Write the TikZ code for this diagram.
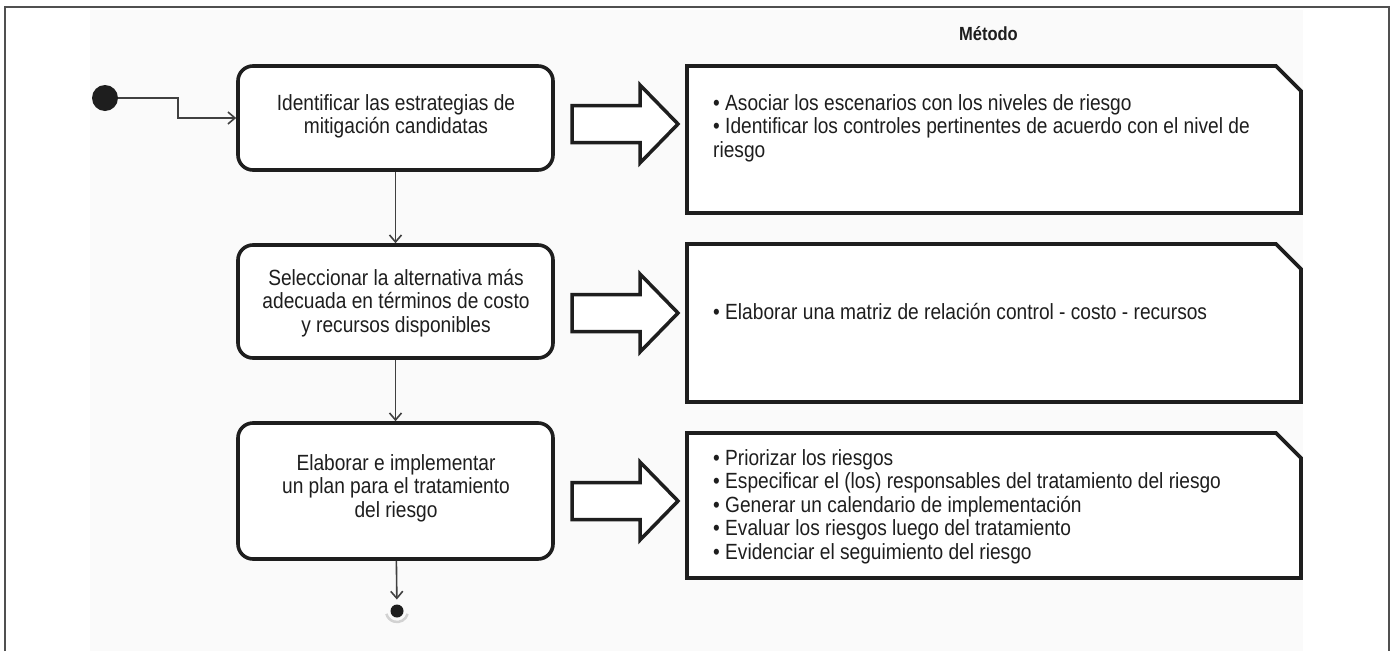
\documentclass[tikz,border=0pt]{standalone}
\usepackage{fontspec}
\setmainfont{Liberation Sans}[FakeStretch=0.87]
\usetikzlibrary{arrows.meta}
\definecolor{ink}{RGB}{30,30,30}
\definecolor{panel}{RGB}{250,250,250}
\definecolor{framec}{RGB}{80,80,80}
\begin{document}
\begin{tikzpicture}[x=1pt,y=-1pt,
  act/.style={draw=ink, line width=3.6pt, rounded corners=15pt, minimum width=315pt, inner sep=0pt, fill=white},
  metharea/.style={rectangle, minimum width=614pt, inner sep=0pt, outer sep=0pt},
  methline/.style={draw=ink, line width=3.6pt, fill=white, line join=miter},
  txt/.style={font=\fontsize{22}{23.5}\selectfont, inner sep=0pt, text=ink},
  conn/.style={draw=ink!85, line width=1.6pt, -{Straight Barb[length=7pt,width=12pt]}},
  barrow/.style={draw=ink, line width=3.5pt, fill=white, line join=miter},
  bigarrow/.pic={\draw[barrow] (0,-18.5) -- (68,-18.5) -- (68,-39) -- (106,0) -- (68,39) -- (68,18.5) -- (0,18.5) -- cycle;}
]
\useasboundingbox (0,0) rectangle (1395,651);
\fill[panel] (90,10) rectangle (1303,651);
\draw[framec, line width=1.3pt] (5,651) -- (5,7) -- (1389,7) -- (1389,651);

% header
\node[txt, font=\fontsize{19}{20}\selectfont\bfseries, anchor=base east] (hdr) at (1018,40) {Método};

% activity boxes
\node[act, minimum height=104pt] (b1) at (395.5,118) {};
\node[act, minimum height=113pt] (b2) at (395.5,301.5) {};
\node[act, minimum height=136pt] (b3) at (395.5,491) {};
\node[txt, align=center, anchor=north] (t1) at (396,93.5) {\strut Identificar las estrategias de\\mitigación candidatas};
\node[txt, align=center, anchor=north] (t2) at (396,268.5) {\strut Seleccionar la alternativa más\\adecuada en términos de costo\\y recursos disponibles};
\node[txt, align=center, anchor=north] (t3) at (396,453.5) {\strut Elaborar e implementar\\un plan para el tratamiento\\del riesgo};

% start / end
\node[circle, fill=ink, minimum size=26pt, inner sep=0pt] (start) at (105,98) {};
\coordinate (bend) at (178,98);
\node[circle, fill=ink, minimum size=13pt, inner sep=0pt, outer sep=5pt] (end) at (397,611) {};
\draw[gray!35, line width=2.5pt] ([shift={(15:11)}]end.center) arc[start angle=15, end angle=165, radius=11];

% connectors
\draw[conn] (start) -- (bend) |- (b1);
\draw[conn] (b1) -- (b2);
\draw[conn] (b2) -- (b3);
\draw[conn] (b3) -- (end);

% block arrows
\pic (a1) at (572,124) {bigarrow};
\pic (a2) at (572,313) {bigarrow};
\pic (a3) at (572,501) {bigarrow};

% method boxes
\node[metharea, minimum height=147pt] (m1) at (994,139.5) {};
\node[metharea, minimum height=158pt] (m2) at (994,323) {};
\node[metharea, minimum height=145pt] (m3) at (994,505.5) {};
\foreach \m in {m1,m2,m3}{
  \draw[methline] (\m.south west) |- ([xshift=-25pt]\m.north east) -- ([yshift=-25pt]\m.north east) -- (\m.south east) -- cycle;
}
\node[txt, align=left, anchor=north west] (r1) at (713,93.5) {\strut• Asociar los escenarios con los niveles de riesgo\\• Identificar los controles pertinentes de acuerdo con el nivel de\\riesgo};
\node[txt, align=left, anchor=north west] (r2) at (713,302.5) {\strut• Elaborar una matriz de relación control - costo - recursos};
\node[txt, align=left, anchor=north west] (r3) at (713,448.5) {\strut• Priorizar los riesgos\\• Especificar el (los) responsables del tratamiento del riesgo\\• Generar un calendario de implementación\\• Evaluar los riesgos luego del tratamiento\\• Evidenciar el seguimiento del riesgo};
\end{tikzpicture}
\end{document}
